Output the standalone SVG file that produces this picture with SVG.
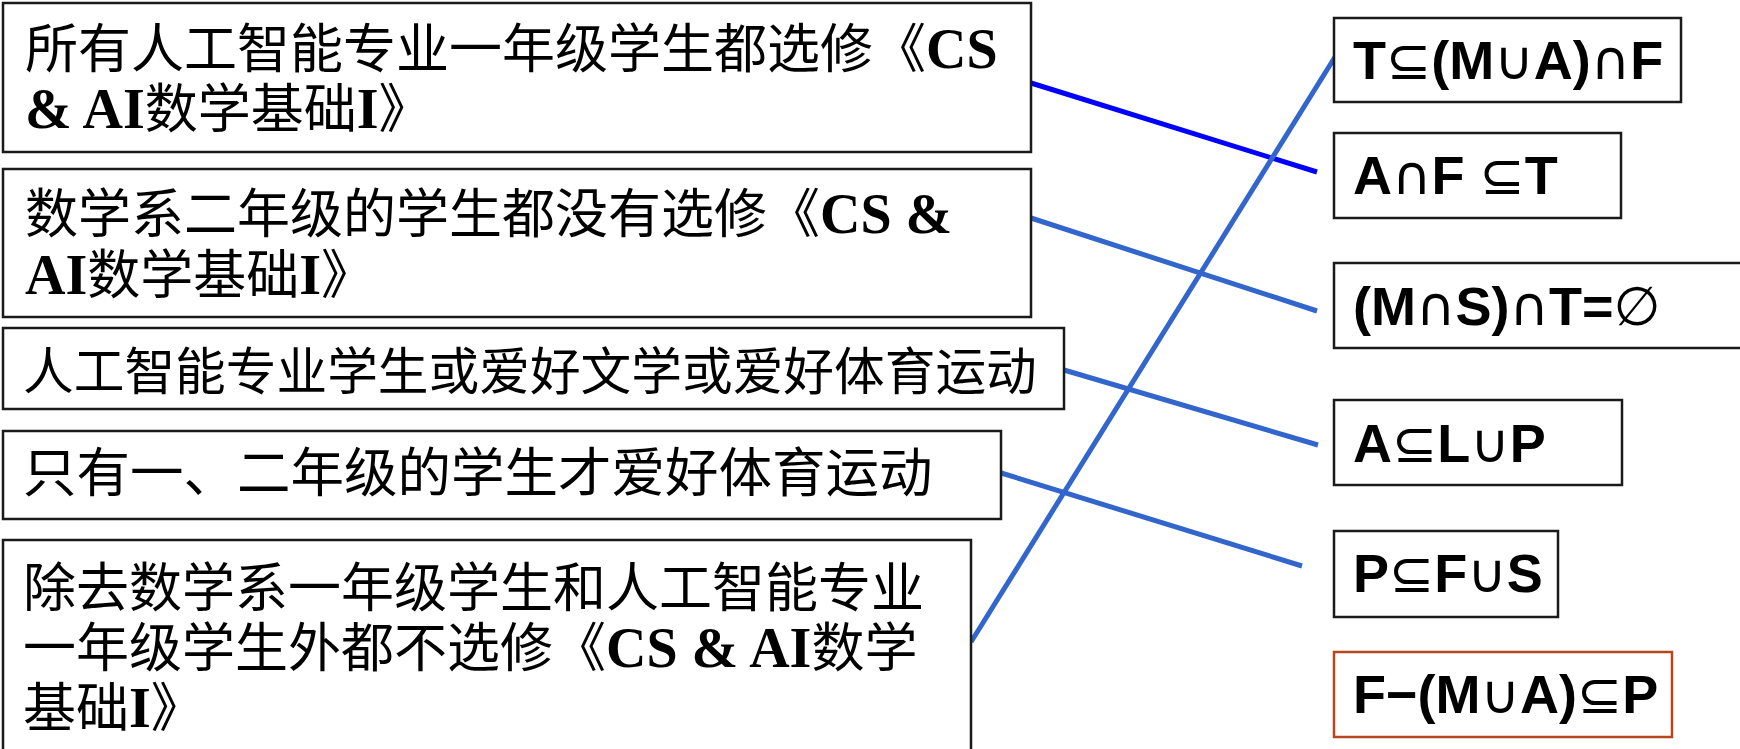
<svg xmlns="http://www.w3.org/2000/svg" width="1740" height="749" viewBox="0 0 1740 749">
<style>
.box{fill:#ffffff;stroke:#1a1a1a;stroke-width:2.5}
.rbox{fill:#ffffff;stroke:#b5461e;stroke-width:2.5}
.cn{font-family:"Liberation Serif","Noto Sans CJK SC",serif;font-size:53px;fill:#000}
.b{font-weight:bold;font-size:56px}
.f{font-family:"Liberation Sans","DejaVu Sans",sans-serif;font-size:54px;font-weight:bold;fill:#000}
.s{font-family:"DejaVu Sans",sans-serif;font-weight:normal}
.lk{fill:none;stroke:#3366cc;stroke-width:5}
.lk1{fill:none;stroke:#0000ff;stroke-width:5}
</style>
<rect width="1740" height="749" fill="#ffffff"/>
<g id="connectors">
<line class="lk1" x1="1031" y1="83" x2="1317" y2="172"/>
<line class="lk" x1="1031" y1="218" x2="1317" y2="311"/>
<line class="lk" x1="1064" y1="370" x2="1318" y2="445"/>
<line class="lk" x1="998" y1="472" x2="1302" y2="566"/>
<line class="lk" x1="971" y1="642" x2="1335" y2="57"/>
</g>
<g id="n1">
<rect class="box" x="3" y="3" width="1028" height="149"/>
<text class="cn" x="25" y="68">所有人工智能专业一年级学生都选修《<tspan class="b">CS</tspan></text>
<text class="cn" x="25" y="128"><tspan class="b">&amp; AI</tspan>数学基础<tspan class="b">I</tspan>》</text>
</g>
<g id="n2">
<rect class="box" x="3" y="169" width="1028" height="148"/>
<text class="cn" x="25" y="233">数学系二年级的学生都没有选修《<tspan class="b">CS &amp;</tspan></text>
<text class="cn" x="25" y="294"><tspan class="b">AI</tspan>数学基础<tspan class="b">I</tspan>》</text>
</g>
<g id="n3">
<rect class="box" x="3" y="328" width="1061" height="81"/>
<text class="cn" x="23" y="390" style="font-size:50.7px">人工智能专业学生或爱好文学或爱好体育运动</text>
</g>
<g id="n4">
<rect class="box" x="3" y="431" width="998" height="88"/>
<text class="cn" x="23" y="492" style="font-size:53.5px">只有一、二年级的学生才爱好体育运动</text>
</g>
<g id="n5">
<rect class="box" x="3" y="540" width="968" height="230"/>
<text class="cn" x="23" y="607">除去数学系一年级学生和人工智能专业</text>
<text class="cn" x="23" y="667">一年级学生外都不选修《<tspan class="b">CS &amp; AI</tspan>数学</text>
<text class="cn" x="23" y="727">基础<tspan class="b">I</tspan>》</text>
</g>
<g id="r1">
<rect class="box" x="1334" y="18" width="347" height="84"/>
<text class="f" x="1353" y="79">T<tspan class="s">⊆</tspan>(M<tspan class="s">∪</tspan>A)<tspan class="s">∩</tspan>F</text>
</g>
<g id="r2">
<rect class="box" x="1334" y="133" width="287" height="85"/>
<text class="f" x="1353" y="194">A<tspan class="s">∩</tspan>F <tspan class="s">⊆</tspan>T</text>
</g>
<g id="r3">
<rect class="box" x="1334" y="263" width="420" height="85"/>
<text class="f" x="1353" y="325">(M<tspan class="s">∩</tspan>S)<tspan class="s">∩</tspan>T=<tspan class="s">∅</tspan></text>
</g>
<g id="r4">
<rect class="box" x="1334" y="400" width="288" height="85"/>
<text class="f" x="1353" y="462">A<tspan class="s">⊆</tspan>L<tspan class="s">∪</tspan>P</text>
</g>
<g id="r5">
<rect class="box" x="1334" y="531" width="224" height="86"/>
<text class="f" x="1353" y="592">P<tspan class="s">⊆</tspan>F<tspan class="s">∪</tspan>S</text>
</g>
<g id="r6">
<rect class="rbox" x="1334" y="652" width="338" height="85"/>
<text class="f" x="1353" y="713">F−(M<tspan class="s">∪</tspan>A)<tspan class="s">⊆</tspan>P</text>
</g>
</svg>
